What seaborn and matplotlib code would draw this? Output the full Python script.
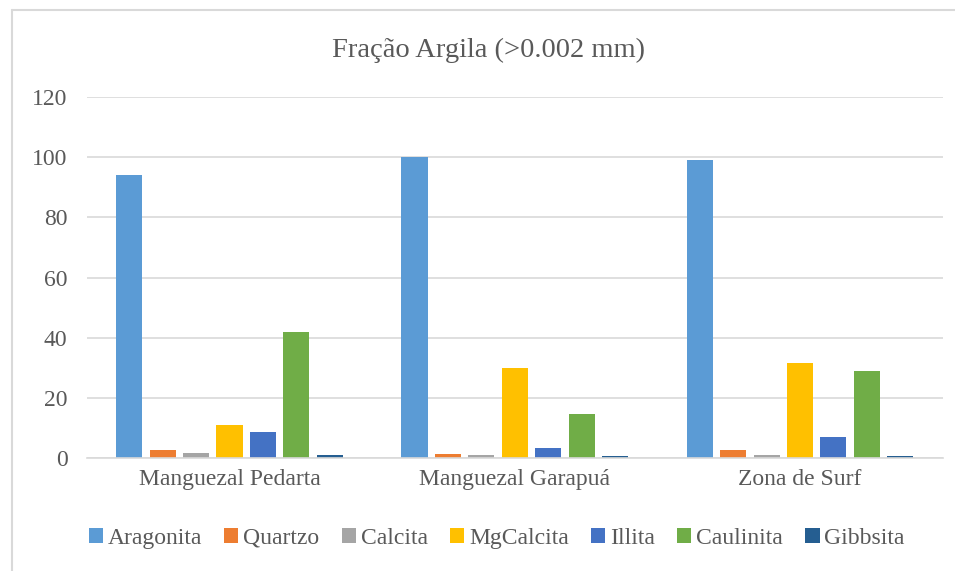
import pandas as pd
import seaborn as sns
import matplotlib.pyplot as plt
from matplotlib.patches import Patch
from matplotlib.lines import Line2D

# values
sites = ["Manguezal Pedarta", "Manguezal Garapuá", "Zona de Surf"]
minerals = ["Aragonita", "Quartzo", "Calcita", "MgCalcita", "Illita", "Caulinita", "Gibbsita"]
aragonita = [94, 100, 99]
quartzo = [2.8, 1.4, 2.6]
calcita = [1.7, 0.9, 0.9]
mgcalcita = [11, 30, 31.6]
illita = [8.6, 3.2, 7.1]
caulinita = [42, 14.6, 29]
gibbsita = [0.9, 0.7, 0.7]
colors = ["#5B9BD5", "#ED7D31", "#A5A5A5", "#FFC000", "#4472C4", "#70AD47", "#255E91"]

series = [aragonita, quartzo, calcita, mgcalcita, illita, caulinita, gibbsita]
rows = []
for name, vals in zip(minerals, series):
    for site, v in zip(sites, vals):
        rows.append({"site": site, "mineral": name, "valor": v})
df = pd.DataFrame(rows)

sns.set_style("white")
plt.rcParams["font.family"] = ["Liberation Serif", "DejaVu Serif"]
txt = "#595959"

fig = plt.figure(figsize=(9.55, 5.71), dpi=100)
ax = fig.add_axes([0.091, 0.198, 0.896, 0.632])

sns.barplot(data=df, x="site", y="valor", hue="mineral", order=sites, hue_order=minerals,
            palette=colors, width=0.82, gap=0.22, linewidth=0, saturation=1,
            legend=False, ax=ax)

ax.set_ylim(0, 120)
ax.set_yticks(range(0, 121, 20))
ax.yaxis.grid(True, color="#D9D9D9", linewidth=1.2)
ax.set_axisbelow(True)
for s in ["top", "right", "left"]:
    ax.spines[s].set_visible(False)
ax.spines["bottom"].set_color("#D9D9D9")
ax.spines["bottom"].set_linewidth(1.2)
ax.tick_params(axis="both", length=0, labelsize=17, colors=txt)
ax.tick_params(axis="y", pad=14)
ax.tick_params(axis="x", pad=8)
ax.set_xlabel("")
ax.set_ylabel("")

fig.text(0.512, 0.912, "Fração Argila (>0.002 mm)", ha="center", va="center",
         fontsize=20.5, color=txt)

handles = [Patch(facecolor=c, edgecolor="none") for c in colors]
fig.legend(handles, minerals, loc="center", bbox_to_anchor=(0.52, 0.057), ncol=7,
           frameon=False, fontsize=17, labelcolor=txt, handlelength=0.6,
           handleheight=0.6, handletextpad=0.2, columnspacing=0.95)

# outer chart frame (left and top edges visible)
fig.add_artist(Line2D([12 / 955, 12 / 955], [0, 1 - 10 / 571], transform=fig.transFigure,
                      color="#D9D9D9", linewidth=1.5))
fig.add_artist(Line2D([12 / 955, 1], [1 - 10 / 571, 1 - 10 / 571], transform=fig.transFigure,
                      color="#D9D9D9", linewidth=1.5))

fig.savefig("out.png", dpi=100)
